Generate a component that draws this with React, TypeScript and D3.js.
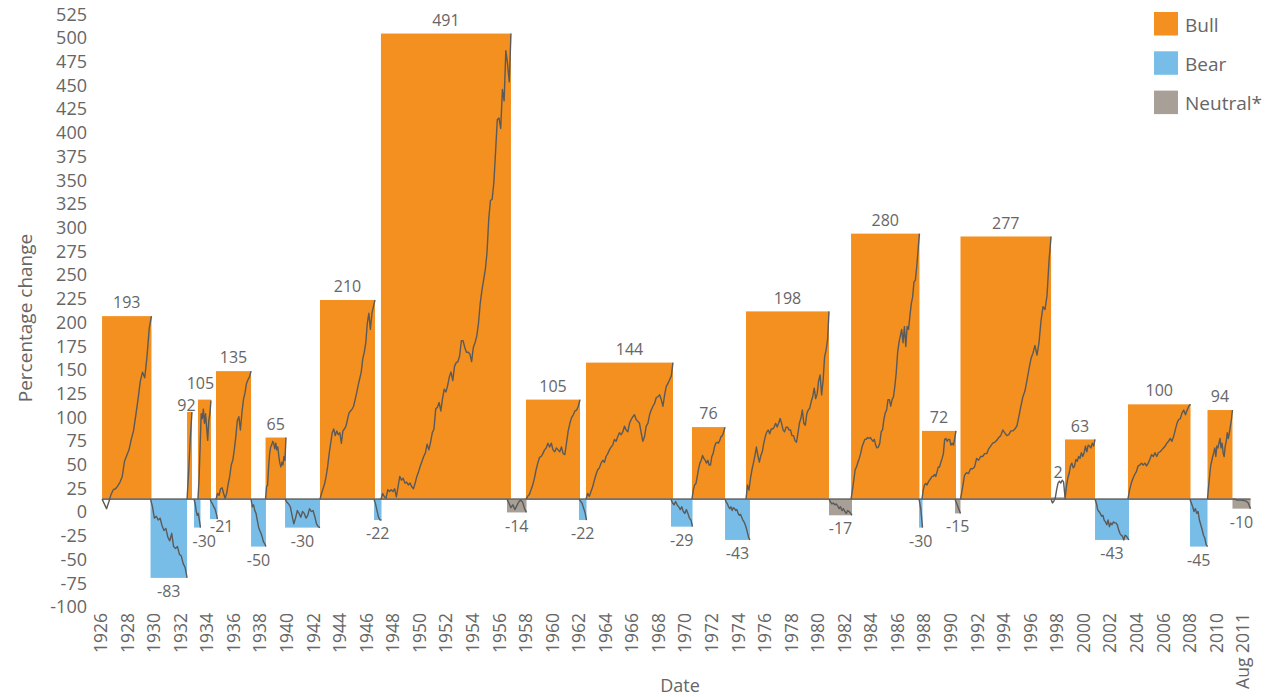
import React from 'react';
import * as d3 from 'd3';

// ---------- data ----------
const periodTypes = [
  'bull', 'bear', 'bull', 'bear', 'bull', 'bear', 'bull', 'bear', 'bull', 'bear',
  'bull', 'bear', 'bull', 'neutral', 'bull', 'bear', 'bull', 'bear', 'bull', 'bear',
  'bull', 'neutral', 'bull', 'bear', 'bull', 'neutral', 'bull', 'neutral', 'bull', 'bear',
  'bull', 'bear', 'bull', 'neutral',
];
const periodStart = [
  1926.08, 1929.73, 1932.48, 1933.0, 1933.3, 1934.21, 1934.66, 1937.3, 1938.39, 1939.86,
  1942.49, 1946.56, 1947.08, 1956.57, 1958.0, 1961.99, 1962.52, 1968.92, 1970.5, 1972.99,
  1974.57, 1980.82, 1982.48, 1987.6, 1987.82, 1990.31, 1990.72, 1997.54, 1998.59, 2000.85,
  2003.33, 2008.0, 2009.32, 2011.2,
];
const periodEnd = [
  1929.8, 1932.48, 1932.85, 1933.49, 1934.28, 1934.77, 1937.3, 1938.42, 1939.93, 1942.49,
  1946.63, 1947.12, 1956.87, 1958.04, 1962.07, 1962.56, 1969.07, 1970.54, 1972.99, 1974.87,
  1980.82, 1982.55, 1987.63, 1987.86, 1990.38, 1990.72, 1997.54, 1998.59, 2000.85, 2003.41,
  2008.04, 2009.32, 2011.2, 2012.56,
];
const barValues = [
  193, -83, 92, -30, 105, -21, 135, -50, 65, -30,
  210, -22, 491, -14, 105, -22, 144, -29, 76, -43,
  198, -17, 280, -30, 72, -15, 277, 2, 63, -43,
  100, -50, 94, -10,
];
const labelValues = [
  193, -83, 92, -30, 105, -21, 135, -50, 65, -30,
  210, -22, 491, -14, 105, -22, 144, -29, 76, -43,
  198, -17, 280, -30, 72, -15, 277, 2, 63, -43,
  100, -45, 94, -10,
];
// cumulative % change within each period, read at even steps across the period
const trajectories: number[][] = [
  [0, -5, -10, -3, 5, 10, 11, 14, 18, 24, 40, 46, 52, 63, 72, 88, 105, 124, 134, 128, 150, 180, 193],
  [0, -8, -20, -18, -22, -20, -28, -33, -31, -40, -44, -36, -50, -52, -50, -58, -60, -68, -72, -83],
  [0, 30, 65, 92],
  [0, -4, -12, -17, -15, -22, -30],
  [0, 20, 55, 90, 85, 95, 80, 90, 76, 62, 83, 90, 104],
  [0, -3, -5, -8, -10, -15, -21],
  [0, 6, 4, 11, 12, 6, 1, 6, 16, 24, 36, 41, 52, 66, 83, 87, 73, 91, 105, 112, 122, 126, 129, 135],
  [0, -8, -6, -12, -15, -22, -29, -33, -36, -40, -45, -47, -50],
  [0, 13, 15, 34, 48, 55, 57, 61, 59, 53, 59, 52, 55, 45, 38, 34, 39, 36, 45, 41, 65],
  [0, -3, -5, -8, -17, -26, -20, -12, -15, -19, -13, -15, -20, -17, -10, -13, -12, -18, -26, -29, -30],
  [0, 6, 11, 16, 24, 34, 48, 59, 70, 74, 67, 72, 68, 70, 59, 72, 74, 77, 84, 91, 93, 95, 98, 105, 112, 120, 127, 134, 148, 155, 165, 186, 196, 179, 196, 203, 210],
  [0, -5, -12, -19, -22, -22],
  [0, 6, 2.5, 1, 10, 8, 10, 8, 11, 2.5, 13, 24, 20, 22, 17, 18, 15, 17, 13, 11, 17, 24, 29, 35, 40, 45, 49, 58, 52, 60, 70, 74, 95, 97, 102, 93, 106, 116, 113, 120, 129, 134, 125, 140, 144, 145, 151, 167, 167, 160, 155, 155, 153, 145, 160, 165, 172, 185, 206, 220, 231, 242, 260, 295, 315, 316, 334, 366, 400, 402, 391, 432, 420, 473, 459, 440, 491],
  [0, -4, -9, -6, -11, -7, -3, -1, -3, -10, -14],
  [0, 3, 5, 10, 15, 22, 31, 38, 44, 45, 48, 52, 54, 59, 55, 59, 52, 50, 54, 52, 50, 55, 48, 47, 59, 72, 80, 86, 89, 93, 94, 98, 105],
  [0, -2, -4, -9, -14, -22],
  [0, 6, 3, 8, 13, 20, 26, 31, 33, 38, 41, 39, 45, 48, 52, 55, 57, 63, 61, 66, 70, 68, 71, 77, 73, 71, 80, 84, 87, 89, 84, 82, 80, 70, 61, 66, 77, 80, 89, 94, 98, 101, 107, 108, 110, 105, 98, 110, 119, 122, 126, 130, 144],
  [0, -4, -6, -2.5, -6, -8, -11, -8, -13, -15, -11, -15, -20, -22, -29],
  [0, 9.5, 15, 16.5, 24, 32, 38, 41, 46, 43, 41, 38, 41, 36, 36, 45, 48, 55, 59, 60, 59, 62, 66, 67, 71, 76],
  [0, -3, -5, -8, -10, -8, -12, -9, -10, -12, -11, -15, -17, -16, -19, -22, -24, -27, -31, -36, -41, -43],
  [0, 15, 9.5, 22, 31, 38, 46, 55, 46, 39, 46, 50, 59, 66, 71, 73, 69, 74, 74, 76, 80, 76, 80, 85, 80, 73, 71, 76, 76, 73, 73, 67, 67, 62, 60, 69, 80, 85, 94, 80, 78, 90, 94, 96, 103, 108, 117, 106, 111, 125, 131, 110, 125, 150, 157, 168, 198],
  [0, -3, -5, -4, -6, -5, -7, -10, -8, -12, -10, -13, -15, -12, -13, -15, -17],
  [0, 9.5, 20, 31, 34, 39, 43, 48, 55, 59, 63, 63, 65, 64, 65, 63, 61, 63, 57, 54, 55, 59, 71, 73, 84, 91, 94, 105, 105, 98, 105, 108, 119, 133, 154, 165, 172, 179, 165, 182, 161, 182, 179, 193, 206, 213, 229, 231, 245, 263, 280],
  [0, -10, -30],
  [0, 9.5, 15, 16.5, 15, 18, 20, 22, 24, 24, 26, 24, 29, 34, 34, 39, 43, 48, 63, 64, 61, 63, 63, 57, 59, 57, 64, 72],
  [0, -5, -10, -15],
  [0, 12, 25, 28, 27, 32, 32, 34, 43, 41, 45, 45, 48, 48, 53, 56, 59, 60, 62, 65, 67, 73, 70, 67, 68, 72, 72, 74, 77, 87, 98, 108, 114, 125, 137, 148, 154, 162, 152, 165, 188, 203, 200, 215, 252, 277],
  [0, -4, -2, 1, 10, 17, 19, 17, 20, 18, 2],
  [0, 13, 22, 27, 35, 38, 33, 35, 42, 40, 45, 43, 49, 45, 49, 56, 50, 57, 56, 54, 59, 56, 63],
  [0, -4, -11, -13, -15, -18, -17, -22, -24, -27, -22, -29, -25, -27, -24, -25, -25, -27, -32, -36, -38, -39, -43, -38, -39, -41, -43],
  [0, 10, 17, 22, 26, 29, 35, 36, 38, 36, 38, 35, 38, 42, 47, 45, 49, 45, 49, 50, 52, 54, 56, 59, 61, 64, 61, 66, 73, 80, 84, 85, 91, 94, 89, 94, 98, 100],
  [0, -4, -8, -13, -10, -15, -13, -22, -27, -32, -38, -41, -48, -50],
  [0, 13, 24, 35, 40, 45, 49, 54, 45, 56, 54, 59, 64, 54, 59, 49, 45, 56, 61, 70, 64, 70, 77, 84, 94],
  [0, 0, -1, -1, -1, -1.5, -2, -4, -10],
];
const yTicks = [-100, -75, -50, -25, 0, 25, 50, 75, 100, 125, 150, 175, 200, 225, 250, 275, 300, 325, 350, 375, 400, 425, 450, 475, 500, 525];
const xTickYears = [1926, 1928, 1930, 1932, 1934, 1936, 1938, 1940, 1942, 1944, 1946, 1948, 1950, 1952, 1954, 1956, 1958, 1960, 1962, 1964, 1966, 1968, 1970, 1972, 1974, 1976, 1978, 1980, 1982, 1984, 1986, 1988, 1990, 1992, 1994, 1996, 1998, 2000, 2002, 2004, 2006, 2008, 2010, 2012];
const xTickLabels = ['1926', '1928', '1930', '1932', '1934', '1936', '1938', '1940', '1942', '1944', '1946', '1948', '1950', '1952', '1954', '1956', '1958', '1960', '1962', '1964', '1966', '1968', '1970', '1972', '1974', '1976', '1978', '1980', '1982', '1984', '1986', '1988', '1990', '1992', '1994', '1996', '1998', '2000', '2002', '2004', '2006', '2008', '2010', 'Aug 2011'];
const legendKeys = ['bull', 'bear', 'neutral'];
const legendNames = ['Bull', 'Bear', 'Neutral*'];

// ---------- styling / layout ----------
const W = 1277;
const H = 697;
const COLORS: Record<string, string> = { bull: '#F39020', bear: '#78BDE8', neutral: '#A89F96' };
const TEXT = '#666666';
const FONT = '"Open Sans", "Noto Sans", sans-serif';
// small label nudges (dx, dy) to avoid overlaps, as in the reference
const labelNudge: Record<number, [number, number]> = {
  2: [-3, 7],
  3: [7, 0],
  4: [-4, -3],
  5: [8, -6],
  27: [0, -11],
};

export default function App() {
  const x = d3.scaleLinear().domain([1926, 2012]).range([101, 1243.1]);
  const y = d3.scaleLinear().domain([-100, 525]).range([594, 1.3]);
  const y0 = y(0);
  const tickShift = 13;

  const line = d3
    .line<[number, number]>()
    .x((d) => x(d[0]))
    .y((d) => y(d[1]));

  const paths = trajectories.map((vals, i) => {
    const s = periodStart[i];
    const e = periodEnd[i];
    const n = vals.length;
    const pts: [number, number][] = vals.map((v, k) => [s + ((e - s) * k) / (n - 1), v]);
    return line(pts) || '';
  });

  return (
    <>
      <style>{`body{margin:0;}`}</style>
      <svg width={W} height={H} style={{ display: 'block', fontFamily: FONT }}>
        <rect width={W} height={H} fill="#ffffff" />

        {/* bars */}
        {barValues.map((v, i) => {
          const x0 = x(periodStart[i]);
          const x1 = x(periodEnd[i]);
          const top = Math.min(y(v), y0);
          const h = Math.abs(y(v) - y0);
          return (
            <rect key={'b' + i} x={x0} y={top} width={Math.max(1, x1 - x0)} height={h} fill={COLORS[periodTypes[i]]} />
          );
        })}

        {/* zero line */}
        <line x1={x(periodStart[0])} x2={x(periodEnd[periodEnd.length - 1])} y1={y0} y2={y0} stroke="#707070" strokeWidth={1.8} />

        {/* trajectories */}
        {paths.map((d, i) => (
          <path key={'p' + i} d={d} fill="none" stroke="#5a5a5a" strokeWidth={1.4} strokeLinejoin="round" />
        ))}

        {/* value labels */}
        {labelValues.map((lv, i) => {
          const cx = (x(periodStart[i]) + x(periodEnd[i])) / 2;
          const v = barValues[i];
          const nud = labelNudge[i] || [0, 0];
          const cy = v >= 0 ? y(v) - 13.5 : y(v) + 13.5;
          return (
            <text key={'l' + i} x={cx + nud[0]} y={cy + nud[1]} dy="0.35em" textAnchor="middle" fontSize={16} fill={TEXT}>
              {String(lv)}
            </text>
          );
        })}

        {/* y axis tick labels */}
        {yTicks.map((t) => (
          <text key={'yt' + t} x={87} y={y(t) + tickShift} dy="0.35em" textAnchor="end" fontSize={18} fill={TEXT}>
            {String(t)}
          </text>
        ))}

        {/* x axis tick labels */}
        {xTickYears.map((yr, i) => (
          <text
            key={'xt' + yr}
            transform={`translate(${x(yr)},613) rotate(-90)`}
            dy="0.35em"
            textAnchor="end"
            fontSize={17.5}
            fill={TEXT}
          >
            {xTickLabels[i]}
          </text>
        ))}

        {/* axis titles */}
        <text transform="translate(25,318) rotate(-90)" dy="0.35em" textAnchor="middle" fontSize={19} fill={TEXT}>
          Percentage change
        </text>
        <text x={680} y={692} textAnchor="middle" fontSize={18} fill={TEXT}>
          Date
        </text>

        {/* legend */}
        {legendKeys.map((k, i) => (
          <g key={'lg' + k} transform={`translate(1154,${12 + i * 39.3})`}>
            <rect width={24} height={23.5} fill={COLORS[k]} />
            <text x={31} y={19.5} fontSize={19} fill={TEXT}>
              {legendNames[i]}
            </text>
          </g>
        ))}
      </svg>
    </>
  );
}
